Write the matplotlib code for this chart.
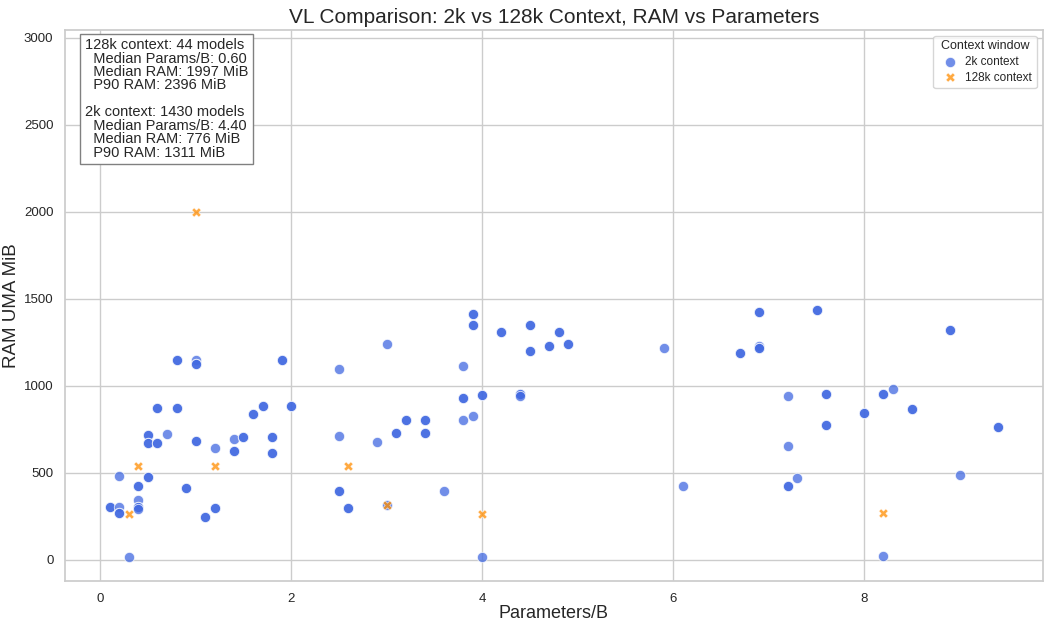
"""
VL models: RAM usage vs parameter count, 2k vs 128k context.
"""

import matplotlib
matplotlib.use("Agg")
import matplotlib.pyplot as plt
import numpy as np
import seaborn as sns

sns.set_theme(style="whitegrid")
plt.rcParams["font.family"] = ["Liberation Sans", "DejaVu Sans"]

# 2k context: visible points (count = how many models overlap at that spot)
params_2k = [0.1, 0.2, 0.2, 0.2, 0.3, 0.4, 0.4, 0.4, 0.4, 0.5, 0.5, 0.5,
             0.6, 0.6, 0.7, 0.8, 0.8, 0.9, 1.0, 1.0, 1.0, 1.1, 1.2, 1.2,
             1.4, 1.4, 1.5, 1.6, 1.7, 1.8, 1.8, 1.9, 2.0,
             2.5, 2.5, 2.5, 2.6, 2.9, 3.0, 3.0, 3.1, 3.2, 3.4, 3.4, 3.6,
             3.8, 3.8, 3.8, 3.9, 3.9, 3.9, 4.0, 4.0, 4.2, 4.4, 4.4, 4.5,
             4.5, 4.7, 4.8, 4.9,
             5.9, 6.1, 6.7, 6.9, 6.9, 6.9, 7.2, 7.2, 7.2, 7.3, 7.5, 7.6,
             7.6, 8.0, 8.2, 8.2, 8.3, 8.5, 8.9, 9.0, 9.4]
ram_2k = [300, 478, 300, 267, 17, 421, 341, 303, 290, 713, 671, 472,
          872, 671, 721, 1147, 872, 411, 1147, 1125, 683, 245, 639, 294,
          694, 622, 707, 834, 880, 707, 614, 1147, 880,
          1096, 709, 391, 294, 677, 1238, 313, 726, 804, 800, 726, 391,
          1115, 929, 800, 1412, 1350, 825, 944, 17, 1310, 952, 940, 1350,
          1196, 1229, 1310, 1238,
          1217, 425, 1187, 1422, 1229, 1216, 939, 654, 425, 466, 1432, 954,
          775, 842, 954, 21, 980, 868, 1320, 487, 764]
count_2k = [2, 1, 1, 2, 1, 2, 1, 2, 1, 2, 2, 2,
            2, 2, 1, 2, 2, 2, 1, 2, 2, 2, 1, 2,
            1, 2, 2, 2, 2, 2, 2, 2, 2,
            1, 1, 2, 2, 1, 1, 1, 2, 2, 2, 2, 1,
            1, 2, 1, 2, 2, 1, 2, 1, 2, 2, 1, 2,
            2, 2, 2, 2,
            1, 1, 2, 2, 1, 2, 1, 1, 2, 1, 2, 2,
            2, 2, 2, 1, 1, 2, 2, 1, 2]

# 128k context
params_128k = [0.3, 0.4, 1.0, 1.2, 2.6, 3.0, 4.0, 8.2]
ram_128k = [264, 535, 1997, 538, 538, 313, 264, 267]

stats_text = ("128k context: 44 models\n"
              "  Median Params/B: 0.60\n"
              "  Median RAM: 1997 MiB\n"
              "  P90 RAM: 2396 MiB\n"
              "\n"
              "2k context: 1430 models\n"
              "  Median Params/B: 4.40\n"
              "  Median RAM: 776 MiB\n"
              "  P90 RAM: 1311 MiB")

x2 = np.repeat(params_2k, count_2k)
y2 = np.repeat(ram_2k, count_2k)

fig, ax = plt.subplots(figsize=(10.52, 6.21), dpi=100)
fig.subplots_adjust(left=0.062, right=0.991, bottom=0.064, top=0.952)

ax.scatter(x2, y2, s=55, color="royalblue", alpha=0.75,
           edgecolor="white", linewidth=0.7, label="2k context")
ax.scatter(params_128k, ram_128k, s=45, color="darkorange", alpha=0.75,
           marker="X", edgecolor="white", linewidth=0.5, label="128k context")

ax.set_ylim(-125, 3045)
ax.set_yticks([0, 500, 1000, 1500, 2000, 2500, 3000])
ax.set_xticks([0, 2, 4, 6, 8])
ax.tick_params(labelsize=9.5, pad=2.5)
ax.set_xlabel("Parameters/B", fontsize=13, labelpad=0)
ax.set_ylabel("RAM UMA MiB", fontsize=13.5, labelpad=3)
ax.set_title("VL Comparison: 2k vs 128k Context, RAM vs Parameters", fontsize=15, pad=5)

ax.text(0.02, 0.985, stats_text, transform=ax.transAxes, va="top", ha="left",
        fontsize=10.5, linespacing=0.95,
        bbox=dict(boxstyle="square,pad=0.3", facecolor="white", edgecolor="gray"))

leg = ax.legend(title="Context window", loc="upper right", fontsize=8.5,
                title_fontsize=9, frameon=True, handletextpad=0.3,
                borderpad=0.4, labelspacing=0.3)

fig.savefig("out.png", dpi=100)
